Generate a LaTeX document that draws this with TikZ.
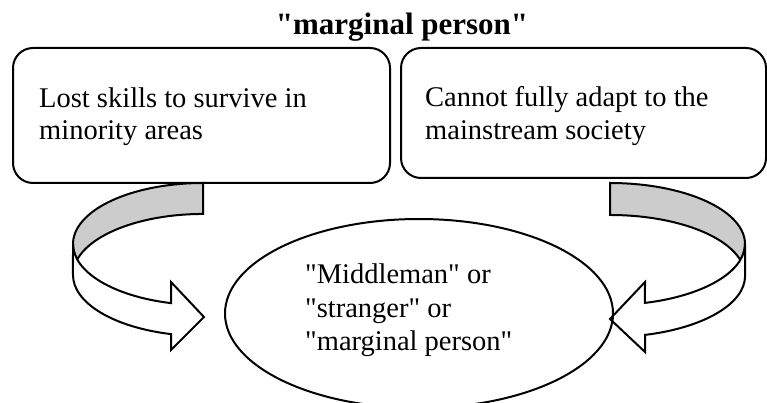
\documentclass[tikz,border=0pt]{standalone}
\usepackage{fontspec}
\setmainfont{Liberation Serif}
\usetikzlibrary{shapes.geometric}
\newcommand{\dq}{\textquotedbl}
\begin{document}
\begin{tikzpicture}[x=1pt,y=-1pt,line join=miter,
  outline/.style={draw=black,line width=2pt},
  roundbox/.style={outline,rounded corners=20pt,inner sep=0pt,anchor=north west},
  bodytext/.style={inner sep=0pt,anchor=base west,font=\fontsize{28.5}{32}\selectfont},
  titletext/.style={inner sep=0pt,anchor=base,font=\fontsize{31}{34}\selectfont\bfseries},
  underside/.style={outline,fill=black!20},
  topside/.style={outline,fill=white}]
\useasboundingbox (0,0) rectangle (767,403);
\clip (0,0) rectangle (767,403);

% heading
\node[titletext] (title) at (402,35) {\dq marginal person\dq};

% the two cause boxes
\node[roundbox,minimum width=377pt,minimum height=135pt] (lbox) at (12,47) {};
\node[roundbox,minimum width=365pt,minimum height=130pt] (rbox) at (400,47) {};
\node[bodytext] (l1) at (39,108) {Lost skills to survive in};
\node[bodytext] (l2) at (39,140) {minority areas};
\node[bodytext] (r1) at (425,107) {Cannot fully adapt to the};
\node[bodytext] (r2) at (425,140) {mainstream society};

% left ribbon arrow: grey underside, then white top face with head
\draw[underside] (203,183)
  arc[start angle=-90,end angle=-194.7,x radius=130,y radius=61]
  arc[start angle=194.7,end angle=270,x radius=130,y radius=61] -- cycle;
\draw[topside] (73,244)
  arc[start angle=180,end angle=104.25,x radius=130,y radius=61]
  -- (171,282) -- (204,317) -- (171,350) -- (171,334.1)
  arc[start angle=104.25,end angle=180,x radius=130,y radius=61] -- cycle;

% right ribbon arrow
\draw[underside] (610,183)
  arc[start angle=-90,end angle=15.2,x radius=135,y radius=61]
  arc[start angle=-15.2,end angle=-90,x radius=135,y radius=61] -- cycle;
\draw[topside] (745,244)
  arc[start angle=0,end angle=75,x radius=135,y radius=61]
  -- (645,282) -- (610,319) -- (645,352) -- (645,334.9)
  arc[start angle=75,end angle=0,x radius=135,y radius=61] -- cycle;

% result ellipse
\node[outline,ellipse,minimum width=388pt,minimum height=189pt,inner sep=0pt] (res) at (419,313.5) {};
\node[bodytext] (e1) at (305,283) {\dq Middleman\dq{} or};
\node[bodytext] (e2) at (305,317) {\dq stranger\dq{} or};
\node[bodytext] (e3) at (305,350) {\dq marginal person\dq};
\end{tikzpicture}
\end{document}
